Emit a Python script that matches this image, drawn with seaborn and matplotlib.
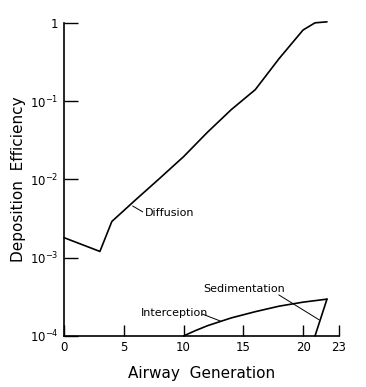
import numpy as np
import pandas as pd
import seaborn as sns
import matplotlib
matplotlib.use("Agg")
import matplotlib.pyplot as plt
from matplotlib.ticker import FixedLocator, FixedFormatter, NullLocator

# ---- data ----
diff_gen = [0, 3, 4, 6, 8, 10, 12, 14, 16, 18, 20, 21, 22]
diff_eff = [1.8e-3, 1.2e-3, 2.9e-3, 5.5e-3, 1.03e-2, 1.95e-2,
            4.0e-2, 7.8e-2, 0.14, 0.35, 0.81, 1.0, 1.03]

int_gen = [10, 11, 12, 14, 16, 18, 20, 22]
int_eff = [1.0e-4, 1.17e-4, 1.35e-4, 1.7e-4, 2.04e-4, 2.4e-4, 2.7e-4, 2.95e-4]

sed_gen = [21, 22]
sed_eff = [1.0e-4, 2.95e-4]

x_ticks = [0, 5, 10, 15, 20, 23]
x_labels = ["0", "5", "10", "15", "20", "23"]
y_ticks = [1e-4, 1e-3, 1e-2, 1e-1, 1]
y_labels = [r"$10^{-4}$", r"$10^{-3}$", r"$10^{-2}$", r"$10^{-1}$", "1"]

df = pd.concat([
    pd.DataFrame({"gen": diff_gen, "eff": diff_eff, "mode": "Diffusion"}),
    pd.DataFrame({"gen": int_gen, "eff": int_eff, "mode": "Interception"}),
    pd.DataFrame({"gen": sed_gen, "eff": sed_eff, "mode": "Sedimentation"}),
])

sns.set_style("ticks")
plt.rcParams["font.family"] = ["DejaVu Sans"]
plt.rcParams["text.color"] = "black"
plt.rcParams["axes.labelcolor"] = "black"

fig = plt.figure(figsize=(3.66, 3.87), dpi=100)
ax = fig.add_axes([0.175, 0.132, 0.751, 0.809])

sns.lineplot(data=df, x="gen", y="eff", units="mode", estimator=None,
             color="black", linewidth=1.2, ax=ax, legend=False)
for ln in ax.lines:
    ln.set_clip_on(False)

ax.set_yscale("log")
ax.set_xlim(0, 23)
ax.set_ylim(1e-4, 1)
ax.xaxis.set_major_locator(FixedLocator(x_ticks))
ax.xaxis.set_major_formatter(FixedFormatter(x_labels))
ax.yaxis.set_major_locator(FixedLocator(y_ticks))
ax.yaxis.set_major_formatter(FixedFormatter(y_labels))
ax.yaxis.set_minor_locator(NullLocator())
ax.xaxis.set_minor_locator(NullLocator())
ax.tick_params(axis="both", direction="in", length=8, width=1.0,
               labelsize=8.5, color="black", labelcolor="black", pad=4)
ax.tick_params(axis="y", length=10)
sns.despine(ax=ax)
for s in ["left", "bottom"]:
    ax.spines[s].set_linewidth(1.2)
    ax.spines[s].set_color("black")

ax.set_xlabel("Airway  Generation", fontsize=11, labelpad=8, color="black")
ax.set_ylabel("Deposition  Efficiency", fontsize=11, labelpad=3, color="black")

# annotations
ax.text(6.75, 10 ** -2.43, "Diffusion", fontsize=8, va="center", ha="left", color="black")
ax.plot([5.74, 6.58], [10 ** -2.34, 10 ** -2.415], color="black", lw=0.7)
ax.text(6.41, 10 ** -3.706, "Interception", fontsize=8, va="center", ha="left", color="black")
ax.plot([11.56, 13.08], [10 ** -3.72, 10 ** -3.81], color="black", lw=0.7)
ax.text(11.65, 10 ** -3.40, "Sedimentation", fontsize=8, va="center", ha="left", color="black")
ax.plot([17.97, 21.35], [10 ** -3.476, 10 ** -3.795], color="black", lw=0.7)

fig.savefig("out.png", dpi=100)
